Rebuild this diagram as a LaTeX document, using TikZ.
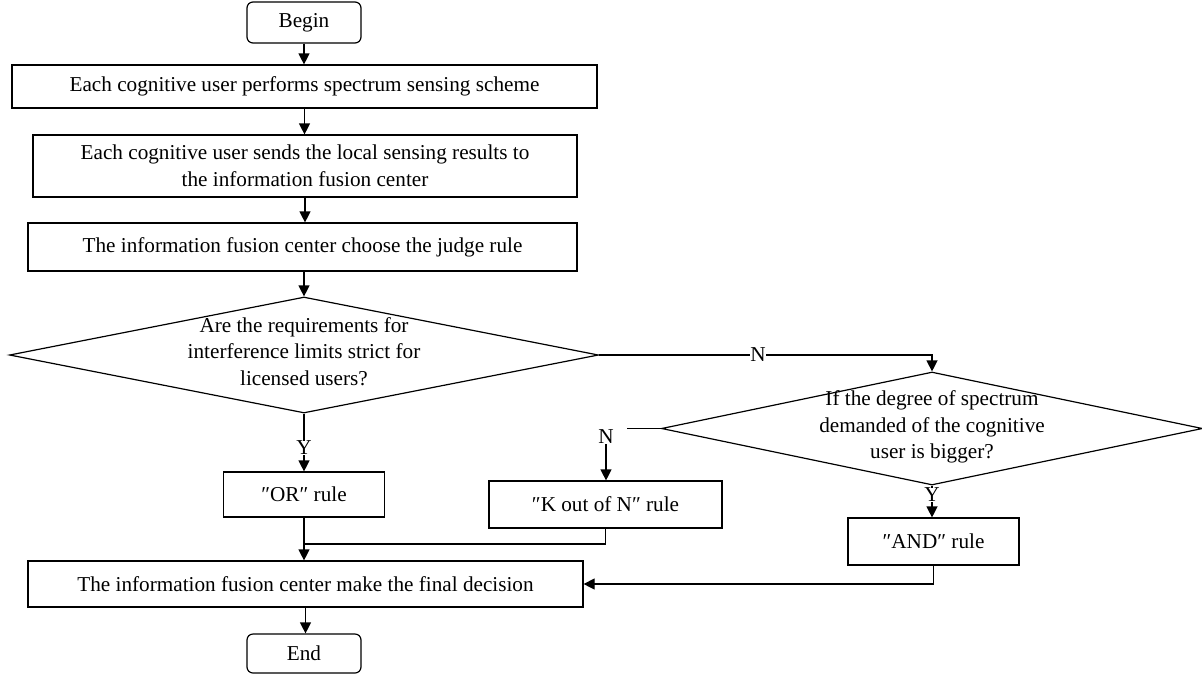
\documentclass[tikz,border=0pt]{standalone}
\usepackage{fontspec}
\setmainfont{Liberation Serif}
\usetikzlibrary{arrows.meta}
\usetikzlibrary{shapes.geometric}
\newcommand{\condtext}[1]{\smash{\raisebox{-2pt}{\begin{tabular}{@{}c@{}}#1\end{tabular}}}}

\begin{document}
\begin{tikzpicture}
[every node/.style={inner sep=0pt, font=\fontsize{10.6}{13.3}\selectfont, text=black},
 box/.style={rectangle, draw=black, line width=0.6pt, align=center},
 term/.style={rectangle, rounded corners=3pt, draw=black, line width=0.6pt, minimum width=57pt},
 cond/.style={diamond, aspect=5, draw=black, line width=0.6pt},
 flow/.style={line width=0.6pt, draw=black, -{Triangle[length=5.5pt, width=5.5pt]}},
 link/.style={line width=0.6pt, draw=black}]
\useasboundingbox (0pt, 0pt) rectangle (601pt, -338pt);
\node (1) [term, minimum height=20.5pt] at (152pt, -11.25pt) {Begin};
\node (2) [box, minimum width=292.5pt, minimum height=21.5pt] at (152.25pt, -43.25pt) {Each cognitive user performs spectrum sensing scheme};
\node (3) [box, minimum width=272pt, minimum height=31pt] at (152.5pt, -83pt) {Each cognitive user sends the local sensing results to\\the information fusion center};
\node (4) [box, minimum width=274.5pt, minimum height=24pt] at (151.25pt, -123.5pt) {The information fusion center choose the judge rule};
\node (5) [cond, minimum width=294.5pt, minimum height=58pt] at (152pt, -177.5pt) {\condtext{Are the requirements for\\interference limits strict for\\licensed users?}};
\node (6) [cond, minimum width=270.5pt, minimum height=56.5pt] at (466pt, -214.25pt) {\condtext{If the degree of spectrum\\demanded of the cognitive\\user is bigger?}};
\node (7) [box, minimum width=80.5pt, minimum height=22.5pt] at (152pt, -247.25pt) {″OR″ rule};
\node (8) [box, minimum width=116.5pt, minimum height=23.5pt] at (302.75pt, -252.25pt) {″K out of N″ rule};
\node (9) [box, minimum width=85.5pt, minimum height=23.5pt] at (466.75pt, -270.75pt) {″AND″ rule};
\node (10) [box, minimum width=277.5pt, minimum height=23pt] at (152.75pt, -292pt) {The information fusion center make the final decision};
\node (11) [term, minimum height=19.5pt] at (152pt, -326.75pt) {End};
\node (12) at (152pt, -224pt) {Y};
\node (13) at (379pt, -177.5pt) {N};
\node (14) at (303pt, -218.5pt) {N};
\node (15) at (466pt, -247.5pt) {Y};
\coordinate (16) at (313.5pt, -214.25pt);
\coordinate (17) at (152pt, -272pt);
\draw [flow] (1.south) -- (1.south |- 2.north);
\draw [flow] (2.south) -- (2.south |- 3.north);
\draw [flow] (3.south) -- (3.south |- 4.north);
\draw [flow] (5.north |- 4.south) -- (5.north);
\draw [link] (5.south) -- (12.north);
\draw [flow] (12.south) -- (12.south |- 7.north);
\draw [link] (5.east) -- (13.west);
\draw [flow] (13.east) -| (6.north);
\draw [link] (6.west) -- (16);
\draw [flow] (14.south) -- (14.south |- 8.north);
\draw [link] (6.south) -- (15.north);
\draw [flow] (15.south) -- (15.south |- 9.north);
\draw [flow] (7.south) -- (7.south |- 10.north);
\draw [link] (8.south) |- (17);
\draw [flow] (9.south) |- (10.east);
\draw [flow] (10.south) -- (10.south |- 11.north);
\end{tikzpicture}
\end{document}
